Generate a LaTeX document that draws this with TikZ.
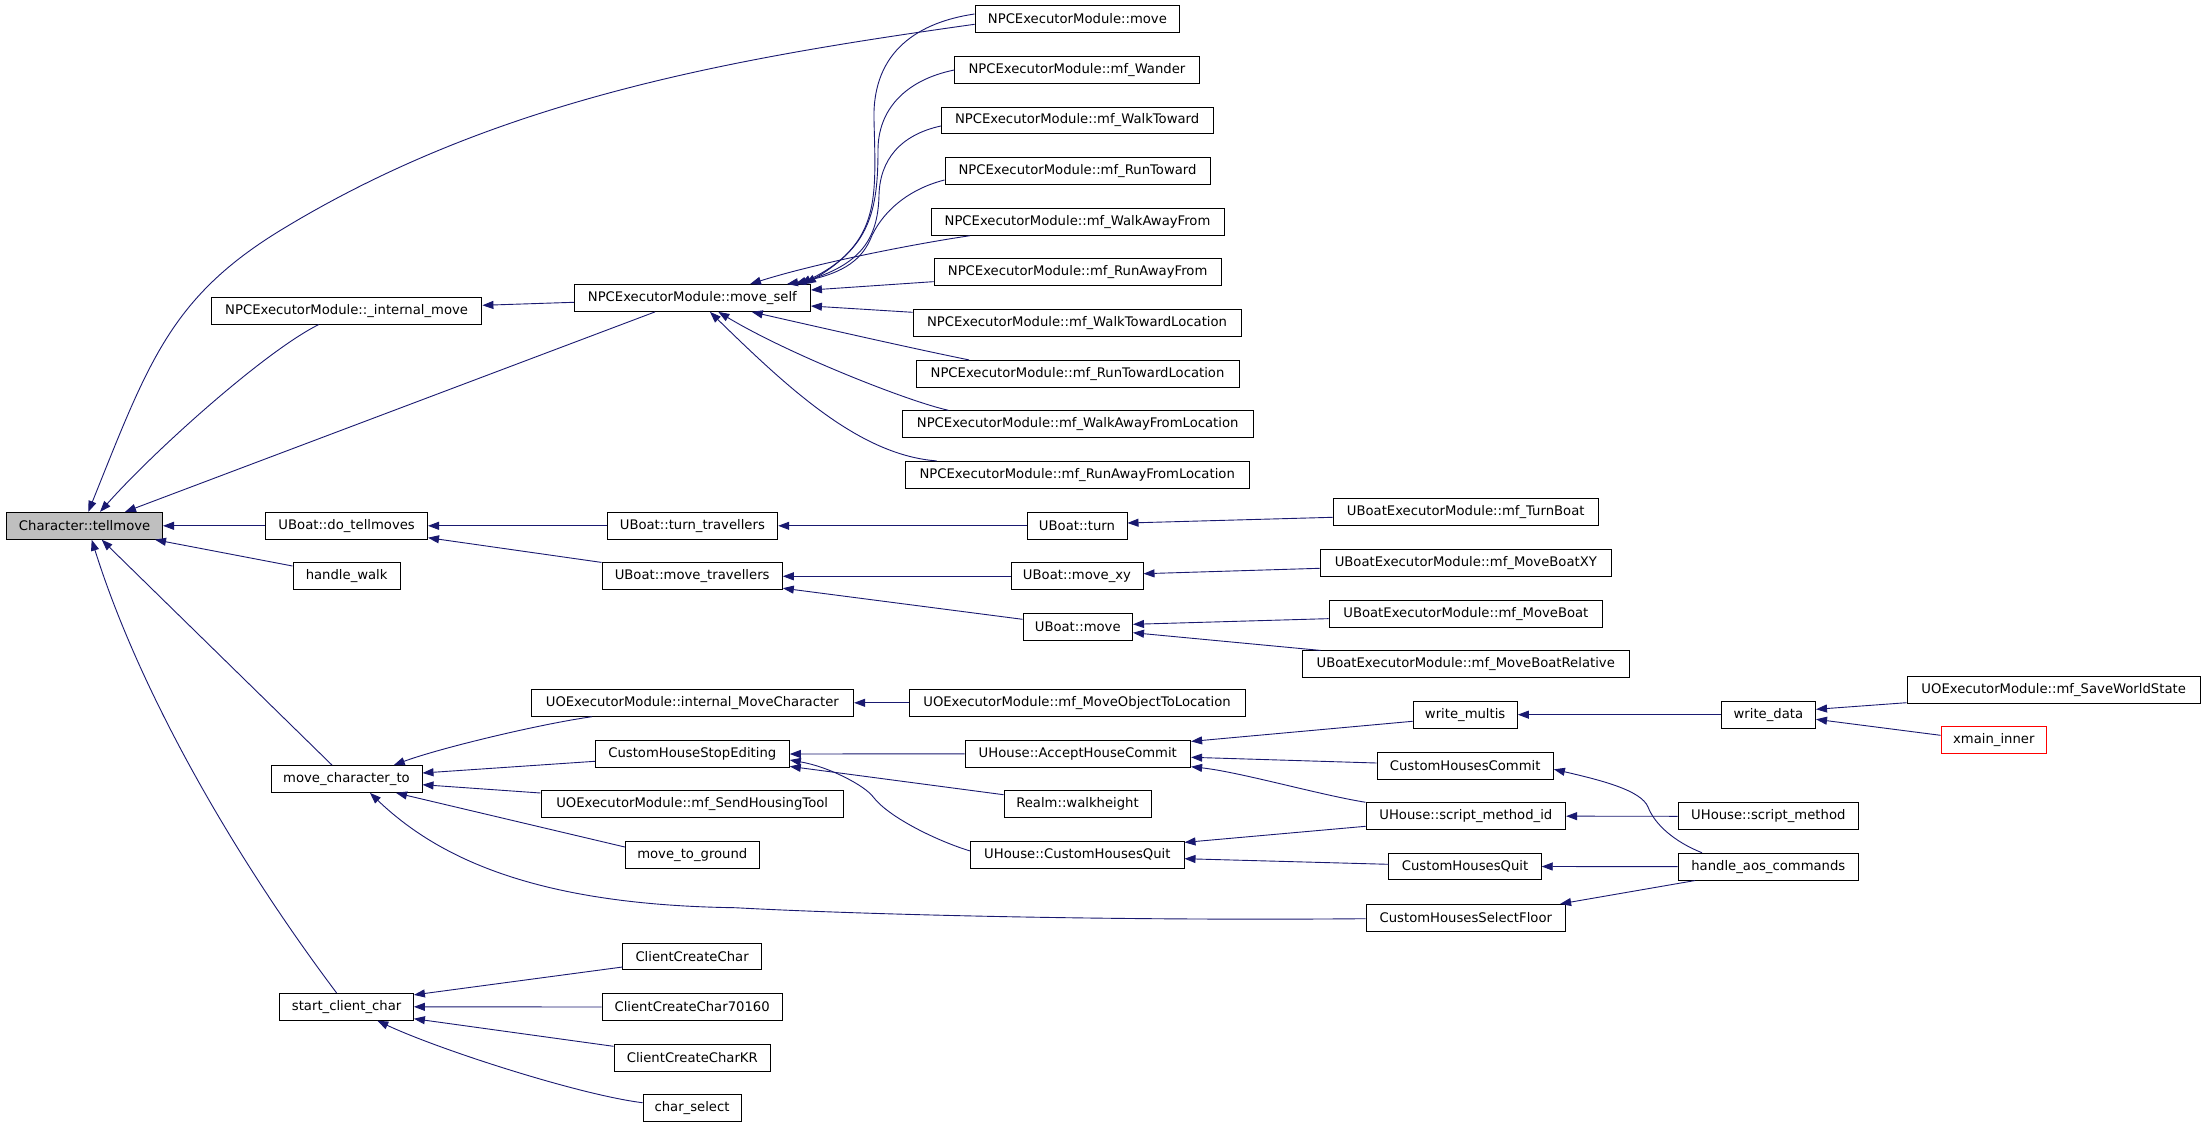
\documentclass[tikz,border=0pt]{standalone}
\usepackage{fontspec}
\newfontfamily\dvs{DejaVu Sans}
\usetikzlibrary{arrows.meta}
\definecolor{edgeblue}{RGB}{25,25,112}
\definecolor{boxgray}{RGB}{191,191,191}
\newcommand{\nd}[5][]{\node[box,minimum width=#4pt,#1] (#2) at (#3) {#5};}
\begin{document}
\begin{tikzpicture}[x=1pt,y=-1pt,
  box/.style={draw=black,line width=1pt,fill=white,inner sep=0pt,minimum height=26.8pt,font=\dvs\fontsize{13.2}{15}\selectfont},
  edge/.style={draw=edgeblue,line width=0.9pt,-{Triangle[length=11pt,width=8pt]}}]
\useasboundingbox[fill=white] (0,0) rectangle (2205,1127);
% nodes
\nd[fill=boxgray]{tm}{84.6,525.8}{155.8}{Character::tellmove}
\nd{im}{346.65,310.65}{270.5}{NPCExecutorModule::\_internal\_move}
\nd{ms}{692.35,298}{236.1}{NPCExecutorModule::move\_self}
\nd{nmove}{1077.4,19}{204.8}{NPCExecutorModule::move}
\nd{wander}{1076.9,70}{244.2}{NPCExecutorModule::mf\_Wander}
\nd{wtow}{1077.15,120.5}{271.7}{NPCExecutorModule::mf\_WalkToward}
\nd{rtow}{1077.5,171}{265}{NPCExecutorModule::mf\_RunToward}
\nd{waf}{1077.5,221.8}{293}{NPCExecutorModule::mf\_WalkAwayFrom}
\nd{raf}{1077.6,272.15}{286.8}{NPCExecutorModule::mf\_RunAwayFrom}
\nd{wtl}{1077,322.65}{328}{NPCExecutorModule::mf\_WalkTowardLocation}
\nd{rtl}{1077.5,373.8}{323}{NPCExecutorModule::mf\_RunTowardLocation}
\nd{wafl}{1077.65,424.15}{350.7}{NPCExecutorModule::mf\_WalkAwayFromLocation}
\nd{rafl}{1077.2,474.8}{344}{NPCExecutorModule::mf\_RunAwayFromLocation}
\nd{dtm}{346.65,525.8}{161.7}{UBoat::do\_tellmoves}
\nd{hw}{346.65,576.3}{107.3}{handle\_walk}
\nd{tt}{692.35,525.8}{170.7}{UBoat::turn\_travellers}
\nd{mt}{692.15,576.3}{180.3}{UBoat::move\_travellers}
\nd{turn}{1077,525.8}{100}{UBoat::turn}
\nd{mxy}{1077,576.3}{132}{UBoat::move\_xy}
\nd{bmove}{1077.75,626.8}{109.5}{UBoat::move}
\nd{tb}{1465.7,512.3}{265.4}{UBoatExecutorModule::mf\_TurnBoat}
\nd{mbxy}{1465.8,562.8}{291.6}{UBoatExecutorModule::mf\_MoveBoatXY}
\nd{mb}{1465.85,613.65}{273.7}{UBoatExecutorModule::mf\_MoveBoat}
\nd{mbr}{1465.7,664.3}{327.4}{UBoatExecutorModule::mf\_MoveBoatRelative}
\nd{imc}{692.3,702.8}{322.6}{UOExecutorModule::internal\_MoveCharacter}
\nd{mol}{1077,702.8}{336}{UOExecutorModule::mf\_MoveObjectToLocation}
\nd{chse}{692.3,754}{194}{CustomHouseStopEditing}
\nd{ahc}{1077.8,753.8}{225.6}{UHouse::AcceptHouseCommit}
\nd{wm}{1465.15,714.65}{104.3}{write\_multis}
\nd{wd}{1768.4,714.65}{94.2}{write\_data}
\nd{sws}{2053.65,689.8}{293.3}{UOExecutorModule::mf\_SaveWorldState}
\nd[draw=red]{xmi}{1993.8,740.15}{105.6}{xmain\_inner}
\nd{mct}{346.5,779}{151}{move\_character\_to}
\nd{sht}{692.15,804.3}{302.3}{UOExecutorModule::mf\_SendHousingTool}
\nd{mtg}{692.3,854.65}{134}{move\_to\_ground}
\nd{rw}{1077.5,804.3}{147}{Realm::walkheight}
\nd{uchq}{1077.4,854.8}{213.2}{UHouse::CustomHousesQuit}
\nd{chc}{1465.2,765.8}{176.4}{CustomHousesCommit}
\nd{smi}{1465.8,816.15}{199.6}{UHouse::script\_method\_id}
\nd{chq}{1465.1,866.5}{152.25}{CustomHousesQuit}
\nd{chsf}{1465.8,917.8}{199.6}{CustomHousesSelectFloor}
\nd{sm}{1768.3,816.3}{180.6}{UHouse::script\_method}
\nd{hac}{1768.3,866.65}{180.6}{handle\_aos\_commands}
\nd{scc}{346.6,1006.8}{133.6}{start\_client\_char}
\nd{ccc}{692.1,956.5}{138.25}{ClientCreateChar}
\nd{cc7}{692.15,1007}{180.3}{ClientCreateChar70160}
\nd{cckr}{692.3,1058}{156.6}{ClientCreateCharKR}
\nd{cs}{692,1108.15}{98}{char\_select}
% edges into Character::tellmove
\draw[edge] ([yshift=-5.3pt]nmove.west) .. controls (727,59) and (494.5,100) .. (281,230) .. controls (170,297.7) and (148,363.4) .. ([xshift=3.7pt]tm.north);
\draw[edge] ([xshift=-27.9pt]im.south) .. controls (264.75,351.4) and (154,451) .. ([xshift=15.4pt]tm.north);
\draw[edge] ([xshift=-37.35pt]ms.south) -- ([xshift=40.4pt]tm.north);
\draw[edge] (dtm.west) -- (tm.east);
\draw[edge] ([yshift=10.3pt]hw.west) -- ([xshift=-8pt]tm.south east);
\draw[edge] ([xshift=-14.5pt]mct.north) -- ([xshift=17.1pt]tm.south);
\draw[edge] ([xshift=-10pt]scc.north) .. controls (234.6,857.3) and (139.7,692.7) .. ([xshift=7.1pt]tm.south);
% move_self
\draw[edge] ([yshift=-4.3pt]ms.west) -- ([yshift=5.35pt]im.east);
\draw[edge] ([yshift=5pt]nmove.west) .. controls (920,22) and (872,50) .. (874,120) .. controls (876,200) and (880,240) .. ([xshift=112.65pt]ms.north);
\draw[edge] (wander.west) .. controls (905,80) and (878,110) .. (878,150) .. controls (878,210) and (870,250) .. ([xshift=107.65pt]ms.north);
\draw[edge] ([yshift=-5.5pt]wtow.west) .. controls (900,135) and (880,160) .. (879,195) .. controls (878,240) and (860,265) .. ([xshift=102.65pt]ms.north);
\draw[edge] ([yshift=-9pt]rtow.west) .. controls (905,190) and (880,215) .. (870,240) .. controls (860,262) and (840,275) .. ([xshift=94.65pt]ms.north);
\draw[edge] ([xshift=-107.5pt]waf.south) .. controls (920,243) and (820,262) .. ([xshift=57.65pt]ms.north);
\draw[edge] ([yshift=-9.5pt]raf.west) -- ([yshift=8pt]ms.east);
\draw[edge] ([yshift=10.35pt]wtl.west) -- ([yshift=-8pt]ms.east);
\draw[edge] ([xshift=-108.5pt]rtl.north) .. controls (920,350) and (840,332) .. ([xshift=59.35pt]ms.south);
\draw[edge] ([xshift=-129.3pt]wafl.north) .. controls (910,402) and (790,355) .. ([xshift=26pt]ms.south);
\draw[edge] ([xshift=-140.6pt]rafl.north) .. controls (860,455) and (790,390) .. ([xshift=17.65pt]ms.south);
% boats
\draw[edge] (tt.west) -- (dtm.east);
\draw[edge] (mt.north west) -- ([yshift=2pt]dtm.south east);
\draw[edge] (turn.west) -- (tt.east);
\draw[edge] (mxy.west) -- (mt.east);
\draw[edge] ([yshift=7.5pt]bmove.west) -- ([yshift=2pt]mt.south east);
\draw[edge] ([yshift=-5pt]tb.west) -- ([yshift=2.8pt]turn.east);
\draw[edge] ([yshift=-5.5pt]mbxy.west) -- ([yshift=2.6pt]mxy.east);
\draw[edge] ([yshift=-5pt]mb.west) -- ([yshift=2.5pt]bmove.east);
\draw[edge] ([xshift=19pt]mbr.north west) -- ([yshift=-5.9pt]bmove.east);
% UO / houses
\draw[edge] (mol.west) -- (imc.east);
\draw[edge] ([yshift=-6.65pt]wm.west) -- ([yshift=-1.5pt]ahc.north east);
\draw[edge] (wd.west) -- (wm.east);
\draw[edge] ([yshift=1pt]sws.south west) -- ([yshift=5.35pt]wd.east);
\draw[edge] ([yshift=4.85pt]xmi.west) -- ([yshift=-4.65pt]wd.east);
\draw[edge] ([xshift=-100.3pt]imc.south) .. controls (540,724) and (440,748) .. ([xshift=47.25pt]mct.north);
\draw[edge] ([yshift=-7.3pt]chse.west) -- ([yshift=6pt]mct.east);
\draw[edge] ([yshift=11.3pt]sht.west) -- ([yshift=-5.7pt]mct.east);
\draw[edge] ([yshift=7.65pt]mtg.west) -- ([xshift=49.5pt]mct.south);
\draw[edge] ([yshift=-0.9pt]chsf.west) .. controls (1100,921) and (850,914) .. (735,907.7) .. controls (540,905) and (440,860) .. ([xshift=23.5pt]mct.south);
\draw[edge] ([yshift=-10.5pt]ccc.west) -- ([yshift=-2pt]scc.north east);
\draw[edge] (cc7.west) -- (scc.east);
\draw[edge] ([yshift=11.7pt]cckr.west) -- ([yshift=2pt]scc.south east);
\draw[edge] ([yshift=5.45pt]cs.west) .. controls (580,1095) and (440,1050) .. ([xshift=30.7pt]scc.south);
\draw[edge] (ahc.west) -- (chse.east);
\draw[edge] ([yshift=9.6pt]rw.west) -- ([yshift=1.5pt]chse.south east);
\draw[edge] ([yshift=3.8pt]uchq.west) .. controls (940,842) and (889,818) .. (873,796.7) .. controls (865,786) and (830,767) .. ([yshift=-6pt]chse.east);
\draw[edge] ([yshift=2.8pt]chc.west) -- ([yshift=-3.5pt]ahc.east);
\draw[edge] (smi.north west) .. controls (1320,795) and (1240,772) .. ([yshift=1pt]ahc.south east);
\draw[edge] ([yshift=-10.15pt]smi.west) -- ([yshift=-1.5pt]uchq.north east);
\draw[edge] ([yshift=2.2pt]chq.west) -- ([yshift=-3.9pt]uchq.east);
\draw[edge] (sm.west) -- (smi.east);
\draw[edge] ([xshift=-66.3pt]hac.north) .. controls (1675,842) and (1655,825) .. (1648,807) .. controls (1641,790) and (1600,780) .. ([yshift=-3.5pt]chc.east);
\draw[edge] (hac.west) -- (chq.east);
\draw[edge] ([xshift=-73.3pt]hac.south) -- ([xshift=-6pt]chsf.north east);
\end{tikzpicture}
\end{document}
